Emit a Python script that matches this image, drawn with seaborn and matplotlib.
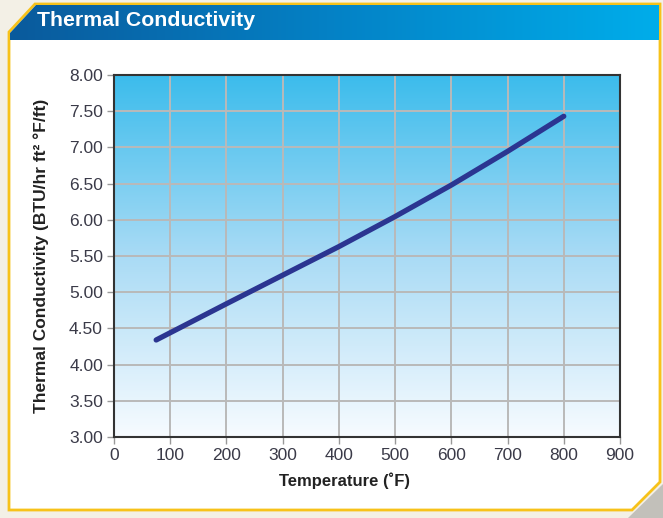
import numpy as np
import pandas as pd
import matplotlib
matplotlib.use("Agg")
import matplotlib.pyplot as plt
from matplotlib.patches import Polygon, Rectangle
from matplotlib.colors import LinearSegmentedColormap
import seaborn as sns

# ---- data ----
temperature_f = [75, 100, 200, 300, 400, 500, 600, 700, 800]
conductivity = [4.34, 4.44, 4.84, 5.235, 5.63, 6.045, 6.48, 6.945, 7.43]
x_ticks = [0, 100, 200, 300, 400, 500, 600, 700, 800, 900]
y_ticks = [3.00, 3.50, 4.00, 4.50, 5.00, 5.50, 6.00, 6.50, 7.00, 7.50, 8.00]
title_text = "Thermal Conductivity"
x_label = "Temperature (\u02daF)"
y_label = "Thermal Conductivity (BTU/hr ft\u00b2 \u00b0F/ft)"

sns.set_style("white")
plt.rcParams["font.family"] = ["Liberation Sans", "DejaVu Sans"]

W, H = 663, 518
fig = plt.figure(figsize=(W / 100, H / 100), dpi=100)
fig.patch.set_facecolor("#f3f0e6")

# ---- decorative background (pixel coordinates) ----
bg = fig.add_axes([0, 0, 1, 1], zorder=0)
bg.set_xlim(0, W)
bg.set_ylim(H, 0)
bg.axis("off")
bg.add_patch(Rectangle((0, 0), W, H, facecolor="#f3f0e6", edgecolor="none"))
# soft shadow at bottom right chamfer
bg.add_patch(Polygon([(663, 484), (663, 518), (628, 518)], closed=True,
                     facecolor="#9a9a96", edgecolor="none", alpha=0.55))
panel_pts = [(9, 32), (35, 4), (660, 4), (660, 482), (632, 510), (9, 510)]
bg.add_patch(Polygon(panel_pts, closed=True, facecolor="white",
                     edgecolor="#f7c21a", linewidth=2.0, joinstyle="miter"))
# header gradient
hdr_pts = [(10, 40), (10, 33), (36, 5), (659, 5), (659, 40)]
hdr = Polygon(hdr_pts, closed=True, facecolor="none", edgecolor="none")
bg.add_patch(hdr)
hcmap = LinearSegmentedColormap.from_list("hdr", ["#0a5a9c", "#0482c6", "#00adea"])
grad = np.linspace(0, 1, 256).reshape(1, -1)
im = bg.imshow(grad, cmap=hcmap, extent=(10, 659, 40, 5), aspect="auto", zorder=1)
im.set_clip_path(hdr)
bg.text(37, 21, title_text, color="white", fontsize=15.3, fontweight="bold",
        va="center", ha="left", zorder=2,
        family=["Liberation Sans Narrow", "Liberation Sans", "DejaVu Sans"])
bg.set_xlim(0, W)
bg.set_ylim(H, 0)

# ---- main axes ----
left, right, top, bottom = 114, 620, 75, 437
ax = fig.add_axes([left / W, 1 - bottom / H, (right - left) / W, (bottom - top) / H], zorder=2)
df = pd.DataFrame({"Temperature": temperature_f, "Conductivity": conductivity})

# vertical gradient background in axes
pcmap = LinearSegmentedColormap.from_list("plot", ["#f7fbff", "#a9dbf5", "#3bbcec"])
vgrad = np.linspace(0, 1, 256).reshape(-1, 1)
ax.imshow(vgrad, cmap=pcmap, extent=(0, 900, 3, 8), origin="lower",
          aspect="auto", zorder=0)

sns.lineplot(data=df, x="Temperature", y="Conductivity", ax=ax, color="#2b3591",
             linewidth=3.8, solid_capstyle="round", zorder=3)

ax.set_xlim(0, 900)
ax.set_ylim(3, 8)
ax.set_xticks(x_ticks)
ax.set_yticks(y_ticks)
ax.set_xticklabels([str(v) for v in x_ticks])
ax.set_yticklabels([f"{v:.2f}" for v in y_ticks])
ax.grid(True, color="#b9b9b9", linewidth=1.4, zorder=1)
for gl in ax.get_xgridlines() + ax.get_ygridlines():
    gl.set_zorder(1)
for sp in ax.spines.values():
    sp.set_color("#333333")
    sp.set_linewidth(1.5)
    sp.set_zorder(4)
ax.tick_params(axis="both", which="both", direction="out", length=5, width=1,
               color="#999999", labelsize=12.5, labelcolor="#3a3a48", pad=3)
ax.tick_params(axis="y", left=True)
ax.tick_params(axis="x", bottom=True)
ax.set_xlabel(x_label, fontsize=12, fontweight="bold", color="#222222")
ax.set_ylabel(y_label, fontsize=12.5, fontweight="bold", color="#222222")
ax.xaxis.set_label_coords(0.455, -0.097)
ax.yaxis.set_label_coords(-0.128, 0.5)

fig.savefig("out.png", dpi=100, facecolor=fig.get_facecolor())
